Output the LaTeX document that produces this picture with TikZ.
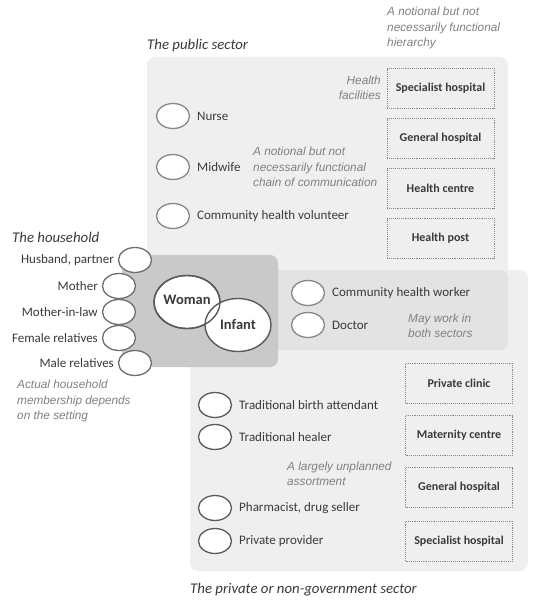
\documentclass[tikz,border=0pt]{standalone}
\usepackage{fontspec}
\setmainfont{Carlito}
\newfontfamily\notefont{Liberation Sans}
\usetikzlibrary{shapes.geometric}
\definecolor{sectorfill}{HTML}{EFEFEF}
\definecolor{overlapfill}{HTML}{E3E3E3}
\definecolor{housefill}{HTML}{C9C9C9}
\definecolor{ringcol}{HTML}{888888}
\definecolor{ringdark}{HTML}{5A5A5A}
\definecolor{ringmid}{HTML}{6E6E6E}
\definecolor{labelcol}{HTML}{3A3A3A}
\definecolor{notecol}{HTML}{808080}
\tikzset{
  ring/.style={ellipse, draw=ringcol, line width=1.3pt, fill=white, minimum width=33pt, minimum height=25pt, inner sep=0pt},
  darkring/.style={ring, draw=ringdark},
  midring/.style={ring, draw=ringmid},
  bigring/.style={ellipse, draw=ringdark, line width=1.4pt, fill=white, minimum width=66pt, minimum height=53pt, inner sep=0pt, font=\fontsize{14.5}{16}\selectfont\bfseries, text=labelcol},
  lbl/.style={anchor=west, inner sep=0pt, font=\fontsize{13}{15}\selectfont, text=labelcol},
  rlbl/.style={anchor=east, inner sep=0pt, font=\fontsize{13}{15}\selectfont, text=labelcol},
  note/.style={inner sep=0pt, font=\notefont\itshape\fontsize{11.8}{15.5}\selectfont, text=notecol, align=left},
  title/.style={inner sep=0pt, font=\itshape\fontsize{14.8}{16}\selectfont, text=labelcol},
  facility/.style={draw=ringcol, densely dotted, line width=0.9pt, minimum width=107pt, minimum height=40pt, inner sep=0pt, font=\fontsize{12}{13}\selectfont\bfseries, text=labelcol},
}
\begin{document}
\begin{tikzpicture}[x=1pt,y=-1pt]
\useasboundingbox (0,0) rectangle (535,601);
\fill[white] (0,0) rectangle (535,601);
% sectors
\fill[sectorfill, rounded corners=8pt] (147,57) rectangle (508,350);
\fill[sectorfill, rounded corners=8pt] (190,270) rectangle (528,571);
\fill[overlapfill, rounded corners=8pt] (190,270) rectangle (508,350);
\fill[housefill, rounded corners=8pt] (122,255) rectangle (278,367);

% titles and notes
\node[title, anchor=base west] (pubtitle) at (147,50) {The public sector};
\node[title, anchor=base west] (hhtitle) at (12,243) {The household};
\node[title, anchor=base west] (privtitle) at (190,593) {The private or non-government sector};
\node[note, anchor=north west] (hierarchy) at (387,7) {A notional but not\\necessarily functional\\hierarchy};
\node[note, anchor=east, align=right] (facil) at (381,88) {Health\\facilities};
\node[note, anchor=west] (chain) at (253,167) {A notional but not\\necessarily functional\\chain of communication};
\node[note, anchor=north west] (membership) at (17,380) {Actual household\\membership depends\\on the setting};
\node[note, anchor=west] (both) at (408,326) {May work in\\both sectors};
\node[note, anchor=west] (assort) at (287,474) {A largely unplanned\\assortment};

% public sector facilities
\node[facility] (pspec) at (440.5,88) {Specialist hospital};
\node[facility] (pgen) at (440.5,138) {General hospital};
\node[facility] (pcentre) at (440.5,188) {Health centre};
\node[facility] (ppost) at (440.5,238) {Health post};

% private sector facilities
\node[facility] (vclinic) at (459,383) {Private clinic};
\node[facility] (vmat) at (459,435.5) {Maternity centre};
\node[facility] (vgen) at (459,487.5) {General hospital};
\node[facility] (vspec) at (459,541) {Specialist hospital};

% public sector workers
\node[ring] (nurse) at (173,116) {};
\node[lbl] (nursel) at (197,116) {Nurse};
\node[ring] (midwife) at (173,167) {};
\node[lbl] (midwifel) at (197,167) {Midwife};
\node[ring] (chv) at (173,216) {};
\node[lbl] (chvl) at (197,216) {Community health volunteer};

% both sectors
\node[ring] (chw) at (308,293) {};
\node[lbl] (chwl) at (332,293) {Community health worker};
\node[ring] (doctor) at (308,325) {};
\node[lbl] (doctorl) at (332,325) {Doctor};

% private sector workers
\node[darkring] (tba) at (215,405) {};
\node[lbl] (tbal) at (239,405) {Traditional birth attendant};
\node[darkring] (healer) at (215,437) {};
\node[lbl] (healerl) at (239,437) {Traditional healer};
\node[darkring] (pharm) at (215,508) {};
\node[lbl] (pharml) at (239,508) {Pharmacist, drug seller};
\node[darkring] (privp) at (215,541) {};
\node[lbl] (privpl) at (239,541) {Private provider};

% household members
\node[midring] (husband) at (135,260) {};
\node[rlbl] (husbandl) at (114,260) {Husband, partner};
\node[midring] (mother) at (119,286) {};
\node[rlbl] (motherl) at (98,286) {Mother};
\node[midring] (mil) at (119,312) {};
\node[rlbl] (mill) at (98,312) {Mother-in-law};
\node[midring] (female) at (119,338) {};
\node[rlbl] (femalel) at (98,338) {Female relatives};
\node[midring] (male) at (135,363) {};
\node[rlbl] (malel) at (114,363) {Male relatives};

% woman and infant
\node[bigring] (woman) at (187,302) {};
\node[bigring] (infant) at (238,325) {Infant};
\draw[draw=ringdark, line width=1.4pt] (woman.center) ellipse [x radius=33pt, y radius=26.5pt];
\node[inner sep=0pt, font=\fontsize{14.5}{16}\selectfont\bfseries, text=labelcol] (womanl) at (187,300) {Woman};
\end{tikzpicture}
\end{document}
